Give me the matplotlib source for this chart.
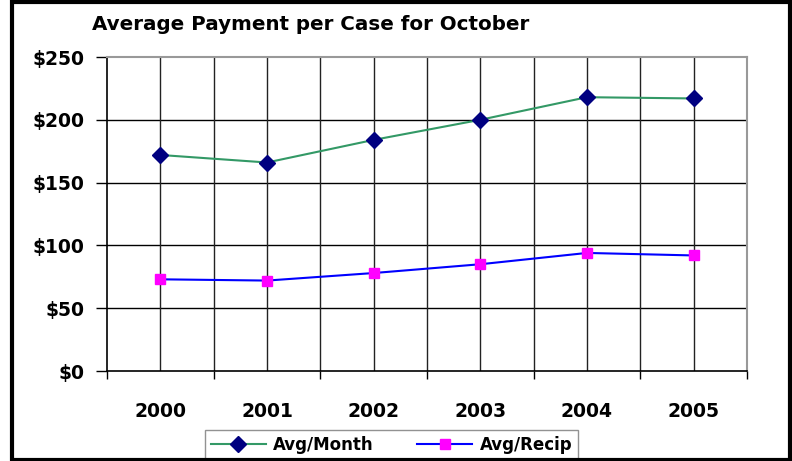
import matplotlib
matplotlib.use("Agg")
import matplotlib.pyplot as plt
from matplotlib.patches import Rectangle

# data
years = ["2000", "2001", "2002", "2003", "2004", "2005"]
avg_month = [172, 166, 184, 200, 218, 217]
avg_recip = [73, 72, 78, 85, 94, 92]
y_ticks = [0, 50, 100, 150, 200, 250]
y_labels = ["$0", "$50", "$100", "$150", "$200", "$250"]

fig = plt.figure(figsize=(7.92, 4.61), dpi=100)
fig.patch.set_facecolor("white")

# outer black frame of the chart object
fig.patches.append(Rectangle((11.5 / 792, 1.5 / 461), 778 / 792, 457 / 461,
                             transform=fig.transFigure, fill=False,
                             edgecolor="black", linewidth=3, zorder=10))

ax = fig.add_axes([107 / 792, 1 - 371 / 461, 640 / 792, 314 / 461])

x = list(range(len(years)))
ax.plot(x, avg_month, color="#339966", linewidth=1.5, marker="D",
        markersize=8, markerfacecolor="#000080", markeredgecolor="#000080",
        label="Avg/Month", zorder=5)
ax.plot(x, avg_recip, color="#0000FF", linewidth=1.5, marker="s",
        markersize=7, markerfacecolor="#FF00FF", markeredgecolor="#FF00FF",
        label="Avg/Recip", zorder=5)

ax.set_xlim(-0.5, len(years) - 0.5)
ax.set_ylim(0, 250)

# horizontal grid
for v in y_ticks[1:-1]:
    ax.axhline(v, color="black", linewidth=1, zorder=1)
# vertical grid at every half category
for i in range(2 * len(years) - 1):
    ax.axvline(i * 0.5, color="#222222", linewidth=1, zorder=1)

ax.set_yticks(y_ticks)
ax.set_yticklabels(y_labels, fontsize=13.5, fontweight="bold",
                   family="DejaVu Sans")
ax.tick_params(axis="y", direction="out", length=8, width=1, pad=8)

# boundaries get tick marks, centres get labels
ax.set_xticks([i - 0.5 for i in range(len(years) + 1)])
ax.set_xticklabels([])
ax.set_xticks(x, minor=True)
ax.set_xticklabels(years, minor=True, fontsize=13.5, fontweight="bold",
                   family="DejaVu Sans")
ax.tick_params(axis="x", which="major", direction="out", length=6, width=1)
ax.tick_params(axis="x", which="minor", length=0, pad=22)

for s in ["left", "bottom"]:
    ax.spines[s].set_color("black")
    ax.spines[s].set_linewidth(1.2)
for s in ["top", "right"]:
    ax.spines[s].set_color("#999999")
    ax.spines[s].set_linewidth(1.5)

fig.text(92 / 792, 1 - 25 / 461, "Average Payment per Case for October",
         fontsize=14.3, fontweight="bold", family="DejaVu Sans",
         ha="left", va="center")

leg = fig.legend(loc="upper left", bbox_to_anchor=(205 / 792, 1 - 430 / 461),
                 ncol=2, frameon=True, fancybox=False, handlelength=3.3,
                 handletextpad=0.45, columnspacing=2.6, borderpad=0.35,
                 borderaxespad=0,
                 prop={"family": "DejaVu Sans", "weight": "bold", "size": 12})
leg.get_frame().set_edgecolor("#777777")
leg.get_frame().set_linewidth(1)

fig.savefig("out.png", dpi=100)
